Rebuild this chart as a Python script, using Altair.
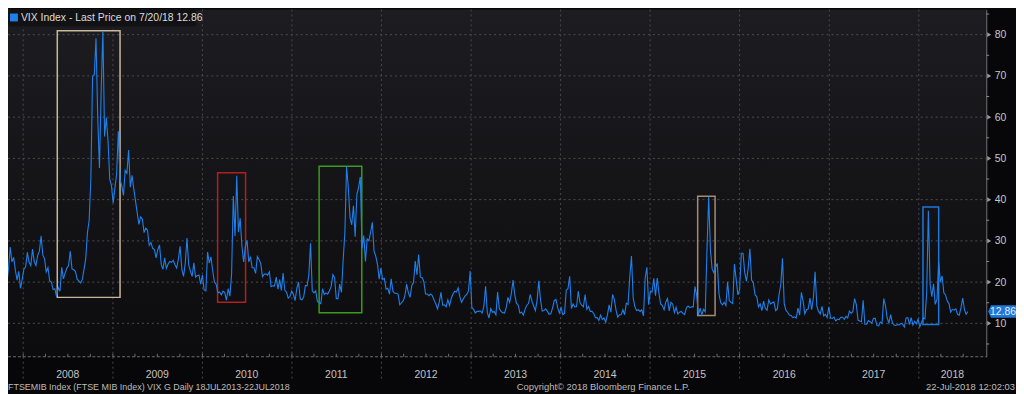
import altair as alt
import pandas as pd

# ---------------- data (weekly closes, Fridays) ----------------
v2007 = [17.0, 18.0, 22.5, 19.5, 23.2, 28.5, 24.9, 26.0, 22.9, 20.5, 22.6, 18.5, 20.7]
v2008 = [23.2, 23.7, 27.2, 24.8, 24.0, 28.0, 25.0, 24.0, 26.5, 27.5, 31.2, 26.6, 25.7,
         22.5, 23.5, 20.3, 20.0, 18.2, 18.4, 16.5, 18.7, 17.8, 23.6, 20.8, 22.2, 23.4,
         24.0, 27.5, 23.2, 23.0, 22.6, 20.7, 20.3, 19.8, 20.6, 23.1, 25.7, 32.0, 35.0,
         45.1, 70.0, 70.3, 79.1, 59.9, 47.7, 66.3, 80.9, 55.3, 59.9, 54.3, 44.9, 43.4]
v2009 = [39.2, 42.8, 46.1, 56.6, 44.8, 43.4, 41.0, 47.1, 46.4, 52.0, 43.0, 45.9, 42.6,
         39.7, 36.8, 34.0, 35.8, 35.3, 32.0, 33.1, 32.6, 28.9, 29.6, 28.2, 27.9, 25.9,
         27.9, 29.0, 24.3, 23.1, 25.9, 23.3, 24.4, 25.0, 24.8, 25.3, 24.2, 23.4, 25.6,
         28.7, 23.1, 21.4, 24.6, 30.7, 24.2, 22.7, 21.4, 24.7, 21.2, 21.6, 21.7, 19.5]
v2010 = [21.7, 18.1, 17.9, 27.3, 24.6, 26.1, 22.7, 20.0, 19.5, 17.4, 17.6, 16.9, 17.8,
         17.5, 15.6, 18.4, 16.6, 22.0, 40.9, 31.2, 45.8, 32.1, 35.5, 28.8, 24.9, 28.5,
         30.1, 24.9, 26.2, 23.5, 23.5, 22.1, 26.2, 25.5, 24.5, 21.3, 21.9, 22.0, 21.7,
         22.5, 18.9, 19.1, 19.1, 21.2, 18.3, 20.6, 18.0, 22.2, 18.0, 17.6, 16.1, 16.5, 17.8]
v2011 = [17.1, 15.5, 18.5, 20.0, 15.9, 15.7, 16.4, 19.2, 19.1, 21.7, 29.4, 17.9,
         17.4, 17.9, 15.3, 15.0, 14.8, 18.4, 17.0, 17.4, 17.1, 17.9, 18.9, 21.8, 21.1,
         16.0, 16.0, 19.5, 17.5, 25.3, 32.0, 48.0, 43.0, 35.6, 33.9, 38.5, 31.0, 41.3, 43.0,
         45.5, 28.2, 31.3, 25.0, 30.5, 30.0, 32.1, 34.5, 27.5, 26.3, 24.3, 20.7, 23.4]
v2012 = [20.6, 20.9, 18.3, 18.5, 17.1, 20.8, 17.8, 17.3, 17.3, 17.1, 14.5, 15.0, 15.5,
         16.7, 19.5, 17.4, 16.3, 19.2, 19.9, 25.1, 21.8, 26.7, 21.2, 21.1, 20.1, 17.1,
         17.1, 16.7, 17.1, 16.7, 15.6, 14.7, 13.5, 15.2, 17.5, 14.4, 14.5, 14.0, 15.7,
         14.3, 16.1, 17.1, 17.8, 17.6, 18.6, 16.4, 15.1, 15.9, 16.6, 17.0, 17.8, 22.7]
v2013 = [13.8, 13.4, 12.5, 12.9, 12.9, 13.0, 12.5, 14.2, 19.0, 12.6, 11.3, 13.6, 12.7,
         12.9, 12.1, 17.6, 13.6, 12.9, 12.6, 12.5, 13.8, 16.3, 15.1, 17.2, 20.5, 16.9,
         14.9, 14.4, 12.5, 12.7, 12.0, 13.4, 14.4, 14.8, 17.0, 15.4, 14.2, 13.1, 15.5,
         20.3, 15.7, 13.0, 13.1, 13.5, 12.9, 12.2, 12.3, 13.7, 15.5, 15.8, 13.8, 12.5]
v2014 = [13.8, 12.1, 12.4, 18.1, 18.4, 21.4, 13.6, 14.7, 14.0, 14.1, 17.8, 15.0, 14.4,
         14.0, 17.0, 13.4, 14.1, 12.9, 12.9, 12.4, 11.4, 11.4, 10.7, 12.0, 10.9, 11.3,
         10.3, 12.1, 14.5, 12.7, 17.0, 15.8, 13.2, 11.5, 12.1, 12.1, 13.3, 12.1, 14.9,
         14.6, 21.2, 26.3, 16.1, 14.0, 13.1, 13.3, 12.9, 13.3, 11.8, 21.1, 23.6, 14.5]
v2015 = [17.8, 17.6, 20.9, 16.7, 21.0, 17.3, 14.7, 14.3, 13.3, 15.2, 16.0, 13.0, 15.1,
         14.7, 12.6, 13.9, 12.3, 12.7, 12.9, 12.4, 12.1, 13.8, 14.2, 13.8, 14.0, 14.0,
         18.9, 16.8, 12.0, 13.7, 12.1, 13.4, 12.8, 28.0, 40.7, 27.8, 23.2, 22.3, 23.6,
         24.5, 17.1, 15.0, 14.5, 15.1, 14.3, 20.1, 15.5, 15.1, 14.8, 24.4, 20.7, 16.9]
v2016 = [18.2, 27.0, 27.0, 22.3, 20.2, 23.4, 28.1, 20.5, 19.8, 16.9, 16.5, 14.0, 14.7,
         13.1, 15.4, 13.6, 13.2, 15.7, 14.7, 15.0, 15.2, 13.1, 13.5, 17.0, 19.4, 25.8,
         14.8, 13.2, 12.7, 12.0, 11.9, 11.4, 11.6, 11.3, 13.7, 12.0, 17.5, 15.4, 12.3, 13.3,
         13.5, 16.1, 13.3, 16.2, 22.5, 14.2, 12.9, 12.3, 14.1, 11.8, 12.2, 11.4, 14.0]
v2017 = [11.3, 11.2, 11.5, 10.6, 11.0, 10.9, 11.5, 11.5, 11.0, 11.7, 11.3, 13.0, 12.4,
         12.9, 16.0, 14.6, 10.8, 10.6, 10.4, 15.6, 9.8, 9.8, 10.7, 10.4, 10.0, 11.2,
         11.2, 9.5, 9.4, 10.3, 10.0, 16.0, 14.3, 11.3, 10.1, 12.1, 10.2, 9.6, 9.5,
         9.7, 9.6, 10.0, 9.8, 9.1, 11.3, 11.4, 9.7, 11.4, 9.6, 10.5, 9.9, 11.0]
v2018 = [9.2, 10.2, 11.3, 11.1, 17.3, 37.3, 19.5, 16.5, 19.6, 14.6, 15.8, 24.9, 20.0,
         21.5, 17.4, 16.9, 15.4, 14.8, 12.7, 13.4, 13.2, 13.5, 12.2, 12.0, 13.8, 16.1,
         13.4, 12.2, 12.86]

first_friday = "2007-10-05"

# highlight boxes
box_start = ["2008-05-19", "2010-03-04", "2011-04-22", "2015-07-14", "2018-01-18"]
box_end = ["2009-01-30", "2010-06-26", "2011-10-13", "2015-09-23", "2018-03-23"]
box_top = [80.95, 46.5, 48.1, 40.8, 38.2]
box_bottom = [16.3, 15.1, 12.6, 11.9, 9.7]
box_color = ["#c9b79c", "#b3201c", "#3c9a1e", "#a88a6e", "#1f78d8"]

years = ["2008", "2009", "2010", "2011", "2012", "2013", "2014", "2015", "2016", "2017", "2018"]
year_starts = [f"{y}-01-01" for y in years]
year_label_pos = ["2008-07-01", "2009-07-01", "2010-07-01", "2011-07-01", "2012-07-01",
                  "2013-07-01", "2014-07-01", "2015-07-01", "2016-07-01", "2017-07-01",
                  "2018-05-18"]
y_ticks = [10, 20, 30, 40, 50, 60, 70, 80]
y_minor = [5, 15, 25, 35, 45, 55, 65, 75, 85]

legend_text = "VIX Index - Last Price on 7/20/18 12.86"
last_label = "12.86"
last_value = 12.86
footer_left = "FTSEMIB Index (FTSE MIB Index) VIX G  Daily 18JUL2013-22JUL2018"
footer_mid = "Copyright\u00a9 2018 Bloomberg Finance L.P."
footer_right = "22-Jul-2018 12:02:03"

# ---------------- tables ----------------
vix = v2007 + v2008 + v2009 + v2010 + v2011 + v2012 + v2013 + v2014 + v2015 + v2016 + v2017 + v2018
dates = pd.date_range(first_friday, periods=len(vix), freq="W-FRI")
series = pd.DataFrame({"date": dates.strftime("%Y-%m-%d"), "v": vix})
boxes = pd.DataFrame({"s": box_start, "e": box_end, "t": box_top, "b": box_bottom, "c": box_color})
yr = pd.DataFrame({"d": year_starts})
ylab = pd.DataFrame({"d": year_label_pos, "t": years})
grid = pd.DataFrame({"v": y_ticks})
minor = pd.DataFrame({"v": y_minor})
quarters = pd.DataFrame({"d": pd.date_range("2008-01-01", "2018-07-01", freq="QS").strftime("%Y-%m-%d")})
one = pd.DataFrame({"a": [0]})
last = pd.DataFrame({"v": [last_value], "t": [last_label]})

W, H = 986, 350
LINE = "#1f80ea"
FONT = "Liberation Sans"
AX = "#8a8a8e"

xs = alt.Scale(domain=["2007-10-31", "2018-10-03"])
ys = alt.Scale(domain=[1.9, 86.1], nice=False, zero=False)

yaxis = alt.Axis(orient="right", values=y_ticks, grid=False, domainColor=AX,
                 ticks=False, labelColor="#c8c8c8", labelFontSize=10.5, labelFont=FONT,
                 labelPadding=8, domainWidth=1, title=None)


def Y(field):
    return alt.Y(field, scale=ys, axis=yaxis, title=None)


bg = alt.Chart(one).mark_rect(
    fill=alt.Gradient(gradient="linear",
                      stops=[alt.GradientStop(color="#1d1d21", offset=0),
                             alt.GradientStop(color="#0c0c0f", offset=1)],
                      x1=0, x2=0, y1=0, y2=1)
).encode(x=alt.value(0), x2=alt.value(W), y=alt.value(0), y2=alt.value(H))

hgrid = alt.Chart(grid).mark_rule(color="#4e4e52", strokeDash=[2, 3], strokeWidth=1).encode(
    y=Y("v:Q"), x=alt.value(0), x2=alt.value(W))

vgrid = alt.Chart(yr).mark_rule(color="#4a4a4e", strokeDash=[2, 3], strokeWidth=1).encode(
    x=alt.X("d:T", scale=xs, axis=None), y=alt.value(0), y2=alt.value(H + 25))

bottom_line = alt.Chart(one).mark_rule(color="#6e6e72", strokeDash=[3, 2], strokeWidth=1).encode(
    x=alt.value(0), x2=alt.value(W), y=alt.value(H))

qticks = alt.Chart(quarters).mark_rule(color="#6e6e72", strokeWidth=1).encode(
    x=alt.X("d:T", scale=xs, axis=None), y=alt.value(H - 3), y2=alt.value(H))

minor_ticks = alt.Chart(minor).mark_rule(color=AX, strokeWidth=1).encode(
    y=Y("v:Q"), x=alt.value(W), x2=alt.value(W + 3))

major_ticks = alt.Chart(grid).mark_point(shape="triangle-right", size=22, filled=True,
                                         color="#9a9a9e", opacity=1).encode(
    y=Y("v:Q"), x=alt.value(W + 3))

box_layer = alt.Chart(boxes).mark_rect(fillOpacity=0, strokeWidth=1.5).encode(
    x=alt.X("s:T", scale=xs, axis=None), x2="e:T",
    y=Y("t:Q"), y2="b:Q",
    stroke=alt.Stroke("c:N", scale=None))

line = alt.Chart(series).mark_line(color=LINE, strokeWidth=1.1, clip=True).encode(
    x=alt.X("date:T", scale=xs, axis=None), y=Y("v:Q"))

tag = alt.Chart(last).mark_point(
    shape="M-1,0 L-0.8,-0.45 L1,-0.45 L1,0.45 L-0.8,0.45 Z", size=784,
    filled=True, fill="#1f78d8", strokeWidth=0, opacity=1
).encode(x=alt.value(W + 16), y=Y("v:Q"))

tag_text = alt.Chart(last).mark_text(color="#e8ecf4", fontSize=10.5, font=FONT,
                                     align="center", baseline="middle").encode(
    x=alt.value(W + 17), y=Y("v:Q"), text="t:N")

leg_box = alt.Chart(one).mark_rect(fill="#121215", cornerRadius=3).encode(
    x=alt.value(0), x2=alt.value(190), y=alt.value(0), y2=alt.value(17))
leg_sq = alt.Chart(one).mark_rect(fill=LINE).encode(
    x=alt.value(2), x2=alt.value(10), y=alt.value(4), y2=alt.value(12))
leg_txt = alt.Chart(one).mark_text(text=legend_text, color="#dcdcdc", fontSize=10.5, font=FONT,
                                   align="left", baseline="middle").encode(
    x=alt.value(13), y=alt.value(8.5))

year_txt = alt.Chart(ylab).mark_text(color="#c4c4c4", fontSize=10.5, font=FONT,
                                     align="center", baseline="middle").encode(
    x=alt.X("d:T", scale=xs, axis=None), y=alt.value(H + 18), text="t:N")

f_left = alt.Chart(one).mark_text(text=footer_left, color="#bdbdbd", fontSize=9, font=FONT,
                                  align="left", baseline="middle").encode(
    x=alt.value(0), y=alt.value(H + 31))
f_mid = alt.Chart(one).mark_text(text=footer_mid, color="#bdbdbd", fontSize=9.5, font=FONT,
                                 align="center", baseline="middle").encode(
    x=alt.value(600), y=alt.value(H + 31))
f_right = alt.Chart(one).mark_text(text=footer_right, color="#bdbdbd", fontSize=9.5, font=FONT,
                                   align="right", baseline="middle").encode(
    x=alt.value(W + 29), y=alt.value(H + 31))

chart = alt.layer(
    bg, hgrid, vgrid, bottom_line, qticks, minor_ticks, major_ticks, box_layer, line,
    tag, tag_text, leg_box, leg_sq, leg_txt, year_txt, f_left, f_mid, f_right
).properties(
    width=W, height=H,
    padding={"left": 0, "top": 0, "right": 30, "bottom": 36},
    autosize=alt.AutoSizeParams(type="none"),
    background="#070709"
).configure_view(stroke=None)

chart.save("out.html", embed_options={"renderer": "svg", "actions": False})
